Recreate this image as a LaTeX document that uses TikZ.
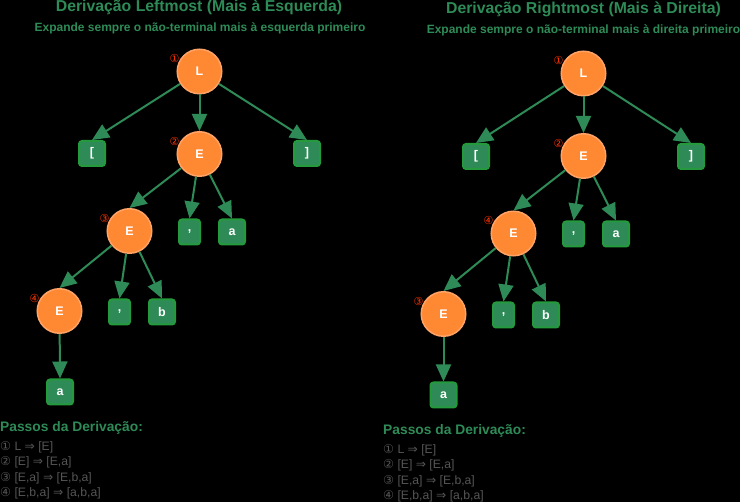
\documentclass[tikz,border=0pt]{standalone}
\usepackage{fontspec}
\setmainfont{Liberation Sans}
\newfontfamily\dejavu{DejaVu Sans}
\usetikzlibrary{arrows.meta,calc}
\definecolor{sgreen}{HTML}{2E8B57}
\definecolor{bgreen}{HTML}{249A3C}
\definecolor{nodeor}{HTML}{FF8833}
\definecolor{nodeorb}{HTML}{FFA366}
\definecolor{badgered}{HTML}{FF3300}
\definecolor{stepgray}{HTML}{555555}
\tikzset{
  ntnode/.style={circle,fill=nodeor,draw=nodeorb,line width=1.5pt,minimum size=44.5pt,inner sep=0pt,
    text=white,font=\fontsize{12.5}{14}\selectfont\bfseries},
  tbox/.style={rounded corners=3pt,fill=sgreen,draw=bgreen,line width=2pt,minimum width=26pt,minimum height=25pt,inner sep=0pt,
    text=white,font=\fontsize{12.5}{14}\selectfont\bfseries},
  cbox/.style={tbox,minimum width=21pt},
  badge/.style={text=badgered,inner sep=0pt,font=\dejavu\fontsize{11}{12}\selectfont},
  arr/.style={draw=sgreen,line width=2pt,-{Triangle[length=17pt,width=15pt]}},
  ttl/.style={text=sgreen,inner sep=0pt,font=\fontsize{15.8}{18}\selectfont\bfseries},
  subttl/.style={text=sgreen,inner sep=0pt,font=\fontsize{12}{14}\selectfont\bfseries},
  stephead/.style={text=sgreen,anchor=west,inner sep=0pt,font=\fontsize{13.8}{16}\selectfont\bfseries},
  stepline/.style={text=stepgray,anchor=west,inner sep=0pt,font=\fontsize{12.2}{14}\selectfont}
}
\newcommand{\cd}[1]{{\dejavu #1}}
\begin{document}
\begin{tikzpicture}[x=1pt,y=-1pt]
\fill[black] (0,0) rectangle (740,502);
\useasboundingbox (0,0) rectangle (740,502);

% ===== Left: Leftmost =====
\node[ttl] (tl) at (199,7.5) {Derivação Leftmost (Mais à Esquerda)};
\node[subttl] (sl) at (200,28) {Expande sempre o não-terminal mais à esquerda primeiro};

\node[ntnode] (lL) at (199.5,71.5) {L};
\node[tbox] (lLb) at (92,153.5) {[};
\node[tbox] (lRb) at (307,153.5) {]};
\node[ntnode] (lE2) at (199.5,154) {E};
\node[cbox] (lc1) at (189.5,232) {,};
\node[tbox] (la1) at (232,232) {a};
\node[ntnode] (lE3) at (129.5,231) {E};
\node[cbox] (lc2) at (119.5,312) {,};
\node[tbox] (lb1) at (162,312) {b};
\node[ntnode] (lE4) at (59.5,311) {E};
\node[tbox] (la2) at (60,392) {a};

\node[badge] (lbg1) at ($(lL)+(-25,-13)$) {①};
\node[badge] (lbg2) at ($(lE2)+(-25,-13)$) {②};
\node[badge] (lbg3) at ($(lE3)+(-25,-13)$) {③};
\node[badge] (lbg4) at ($(lE4)+(-25,-13)$) {④};

\draw[arr] (lL) -- (lLb.north);
\draw[arr] (lL) -- (lE2.north);
\draw[arr] (lL) -- (lRb.north);
\draw[arr] (lE2) -- (lE3.north);
\draw[arr] (lE2) -- (lc1.north);
\draw[arr] (lE2) -- (la1.north);
\draw[arr] (lE3) -- (lE4.north);
\draw[arr] (lE3) -- (lc2.north);
\draw[arr] (lE3) -- (lb1.north);
\draw[arr] (lE4) -- (la2.north);

\node[stephead] (lsh) at (0,427.5) {Passos da Derivação:};
\node[stepline] (ls1) at (0,447) {\cd{①} L \cd{⇒} [E]};
\node[stepline] (ls2) at (0,462.5) {\cd{②} [E] \cd{⇒} [E,a]};
\node[stepline] (ls3) at (0,478) {\cd{③} [E,a] \cd{⇒} [E,b,a]};
\node[stepline] (ls4) at (0,493) {\cd{④} [E,b,a] \cd{⇒} [a,b,a]};

% ===== Right: Rightmost =====
\node[ttl] (tr) at (583.5,9.5) {Derivação Rightmost (Mais à Direita)};
\node[subttl] (sr) at (583.5,30.5) {Expande sempre o não-terminal mais à direita primeiro};

\node[ntnode] (rL) at (583.5,73.5) {L};
\node[tbox] (rLb) at (476,156.5) {[};
\node[tbox] (rRb) at (691,156.5) {]};
\node[ntnode] (rE2) at (583.5,156) {E};
\node[cbox] (rc1) at (573.5,234) {,};
\node[tbox] (ra1) at (616,234) {a};
\node[ntnode] (rE3) at (513.5,233.5) {E};
\node[cbox] (rc2) at (503.5,315) {,};
\node[tbox] (rb1) at (546,315) {b};
\node[ntnode] (rE4) at (443.5,314) {E};
\node[tbox] (ra2) at (443.5,395) {a};

\node[badge] (rbg1) at ($(rL)+(-25,-13)$) {①};
\node[badge] (rbg2) at ($(rE2)+(-25,-13)$) {②};
\node[badge] (rbg4) at ($(rE3)+(-25,-13)$) {④};
\node[badge] (rbg3) at ($(rE4)+(-25,-13)$) {③};

\draw[arr] (rL) -- (rLb.north);
\draw[arr] (rL) -- (rE2.north);
\draw[arr] (rL) -- (rRb.north);
\draw[arr] (rE2) -- (rE3.north);
\draw[arr] (rE2) -- (rc1.north);
\draw[arr] (rE2) -- (ra1.north);
\draw[arr] (rE3) -- (rE4.north);
\draw[arr] (rE3) -- (rc2.north);
\draw[arr] (rE3) -- (rb1.north);
\draw[arr] (rE4) -- (ra2.north);

\node[stephead] (rsh) at (383,430.5) {Passos da Derivação:};
\node[stepline] (rs1) at (383,450) {\cd{①} L \cd{⇒} [E]};
\node[stepline] (rs2) at (383,465.5) {\cd{②} [E] \cd{⇒} [E,a]};
\node[stepline] (rs3) at (383,481) {\cd{③} [E,a] \cd{⇒} [E,b,a]};
\node[stepline] (rs4) at (383,496) {\cd{④} [E,b,a] \cd{⇒} [a,b,a]};
\end{tikzpicture}
\end{document}
